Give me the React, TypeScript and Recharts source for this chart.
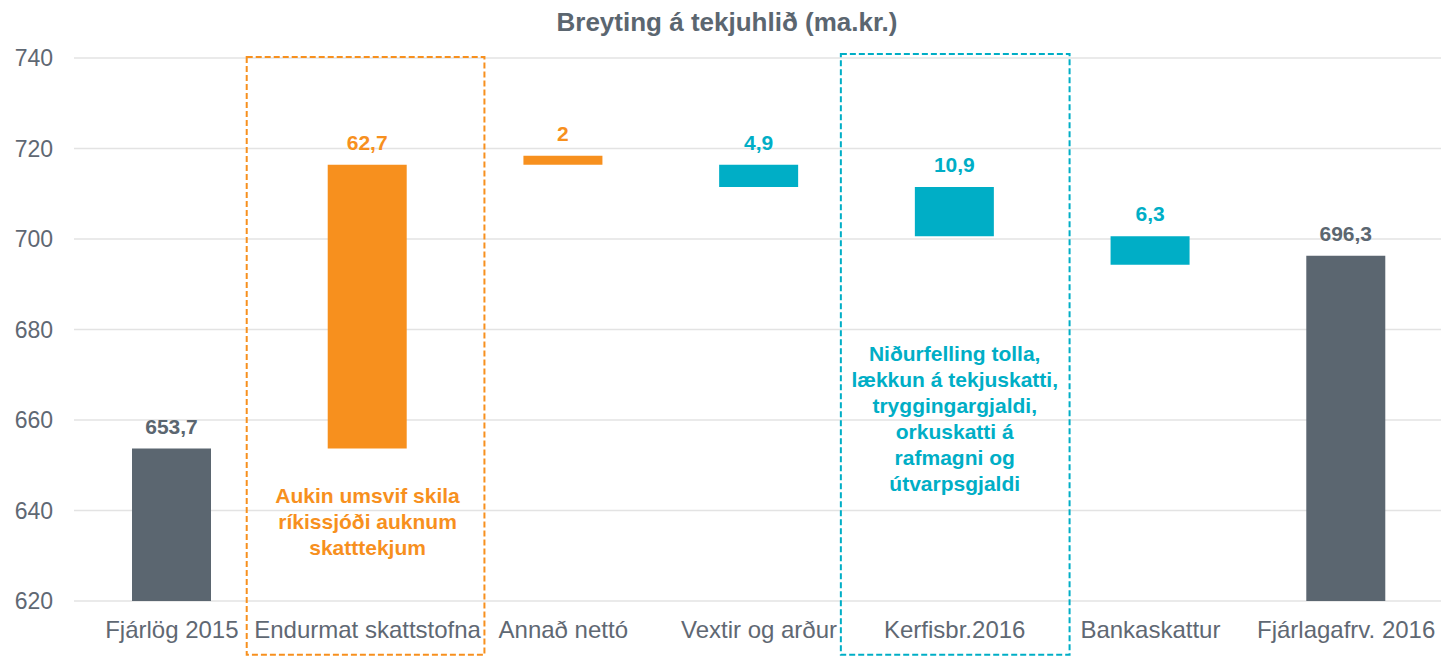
import React from 'react';
import {
  BarChart,
  Bar,
  XAxis,
  YAxis,
  CartesianGrid,
  Cell,
  LabelList,
  ReferenceArea,
  ReferenceDot,
} from 'recharts';

// ---- data ----
const categories = [
  'Fjárlög 2015',
  'Endurmat skattstofna',
  'Annað nettó',
  'Vextir og arður',
  'Kerfisbr.2016',
  'Bankaskattur',
  'Fjárlagafrv. 2016',
];
const lows = [0, 653.7, 716.4, 711.5, 700.6, 694.3, 0];
const highs = [653.7, 716.4, 718.4, 716.4, 711.5, 700.6, 696.3];
const labelValues = [653.7, 62.7, 2, 4.9, 10.9, 6.3, 696.3];
const kinds = ['total', 'increase', 'increase', 'decrease', 'decrease', 'decrease', 'total'];
const yTicks = [620, 640, 660, 680, 700, 720, 740];

const orangeNote = ['Aukin umsvif skila', 'ríkissjóði auknum', 'skatttekjum'];
const tealNote = [
  'Niðurfelling tolla,',
  'lækkun á tekjuskatti,',
  'tryggingargjaldi,',
  'orkuskatti á',
  'rafmagni og',
  'útvarpsgjaldi',
];

// ---- styles ----
const FONT = '"Liberation Sans", Arial, sans-serif';
const GRAY = '#5b6670';
const TEXT_GRAY = '#5f6873';
const ORANGE = '#f7901e';
const TEAL = '#00aec6';
const kindColor: Record<string, string> = { total: GRAY, increase: ORANGE, decrease: TEAL };

const data = categories.map((name, i) => ({
  name,
  range: [lows[i], highs[i]],
  kind: kinds[i],
}));

const fmt = (v: number) => String(v).replace('.', ',');

const BarLabel = (props: any) => {
  const { x, y, width, height, index } = props;
  const top = Math.min(Number(y), Number(y) + Number(height));
  return (
    <text
      x={Number(x) + Number(width) / 2}
      y={top - 15}
      textAnchor="middle"
      fill={kindColor[kinds[index]]}
      fontWeight="bold"
      fontSize={21}
      fontFamily={FONT}
    >
      {fmt(labelValues[index])}
    </text>
  );
};

const dashedBox = (color: string, padL: number, padR: number) => (props: any) => {
  const { x, y, width, height } = props;
  return (
    <rect
      x={x - padL}
      y={y}
      width={width + padL + padR}
      height={height}
      fill="none"
      stroke={color}
      strokeWidth={2}
      strokeDasharray="6 3"
    />
  );
};

const noteLabel = (lines: string[], color: string) => (props: any) => {
  const vb = props.viewBox || {};
  const cx = vb.x + (vb.width || 0) / 2;
  const cy = vb.y + (vb.height || 0) / 2;
  return (
    <text
      textAnchor="middle"
      fill={color}
      fontWeight="bold"
      fontSize={21}
      fontFamily={FONT}
    >
      {lines.map((l, i) => (
        <tspan key={i} x={cx} y={cy + 7.5 + i * 26}>
          {l}
        </tspan>
      ))}
    </text>
  );
};

export default function App() {
  return (
    <div
      style={{
        position: 'absolute',
        left: 0,
        top: 0,
        width: 1441,
        height: 657,
        overflow: 'hidden',
        background: '#fff',
        fontFamily: FONT,
      }}
    >
      <div
        style={{
          position: 'absolute',
          left: 727,
          top: 9,
          transform: 'translateX(-50%)',
          whiteSpace: 'nowrap',
          fontSize: 26,
          lineHeight: '26px',
          fontWeight: 'bold',
          color: GRAY,
          fontFamily: FONT,
        }}
      >
        Breyting á tekjuhlið (ma.kr.)
      </div>
      <BarChart
        width={1444}
        height={657}
        data={data}
        margin={{ top: 58, right: 0, bottom: 0, left: 0 }}
        barSize={79}
      >
        <CartesianGrid horizontal vertical={false} stroke="#e3e3e3" strokeWidth={1.5} />
        <XAxis
          dataKey="name"
          axisLine={false}
          tickLine={false}
          tickSize={0}
          tickMargin={20}
          height={56}
          interval={0}
          tick={{ fill: TEXT_GRAY, fontSize: 24, fontFamily: FONT }}
        />
        <YAxis
          domain={[620, 740]}
          ticks={yTicks}
          allowDataOverflow
          axisLine={false}
          tickLine={false}
          tickSize={0}
          tickMargin={21}
          width={74}
          tick={{ fill: TEXT_GRAY, fontSize: 23, fontFamily: FONT }}
        />
        <Bar dataKey="range" isAnimationActive={false}>
          {data.map((d, i) => (
            <Cell key={i} fill={kindColor[d.kind]} />
          ))}
          <LabelList dataKey="range" content={BarLabel} />
        </Bar>
        <ReferenceArea
          x1={categories[1]}
          x2={categories[1]}
          y1={740.2}
          y2={608.1}
          ifOverflow="visible"
          shape={dashedBox(ORANGE, 23, 19)}
        />
        <ReferenceArea
          x1={categories[4]}
          x2={categories[4]}
          y1={740.9}
          y2={608.1}
          ifOverflow="visible"
          shape={dashedBox(TEAL, 16, 17)}
        />
        <ReferenceDot
          x={categories[1]}
          y={643.4}
          r={0}
          fill="none"
          stroke="none"
          ifOverflow="visible"
          label={noteLabel(orangeNote, ORANGE)}
        />
        <ReferenceDot
          x={categories[4]}
          y={674.8}
          r={0}
          fill="none"
          stroke="none"
          ifOverflow="visible"
          label={noteLabel(tealNote, TEAL)}
        />
      </BarChart>
    </div>
  );
}
